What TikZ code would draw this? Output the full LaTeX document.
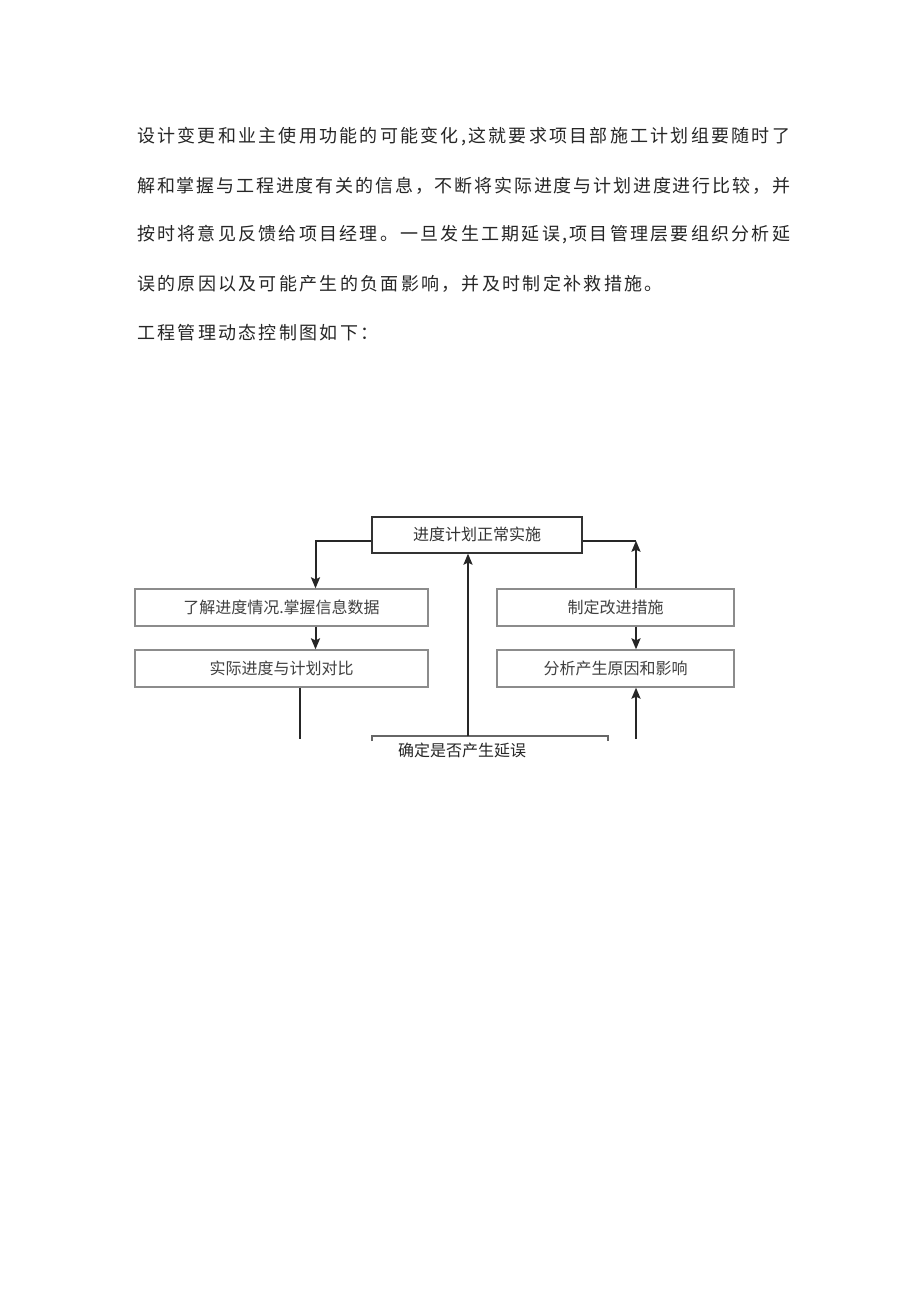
\documentclass[tikz,border=0pt]{standalone}
\usepackage{fontspec}
\usetikzlibrary{arrows.meta}
\newfontfamily\cjk{Noto Sans CJK SC}
\makeatletter
\newcommand\justline[2]{\hbox to #1{\jl@a#2\relax}}
\def\jl@a#1{#1\jl@b}
\def\jl@b#1{\ifx#1\relax\else\hfill#1\expandafter\jl@b\fi}
\newcommand\pitchline[1]{\pl@a#1\relax}
\def\pl@a#1{\ifx#1\relax\else\makebox[20.3pt][l]{#1}\expandafter\pl@a\fi}
\makeatother
\begin{document}
\begin{tikzpicture}[x=1pt,y=-1pt,
  para/.style={anchor=west,inner sep=0pt,font=\cjk\fontsize{18pt}{18pt}\selectfont,text=black!85},
  topbox/.style={draw=black!80,line width=1.8pt,minimum width=210pt,minimum height=36pt,inner sep=0pt,font=\cjk\fontsize{16pt}{16pt}\selectfont,text=black!80},
  sidebox/.style={draw=black!45,line width=1.3pt,minimum height=37pt,inner sep=0pt,font=\cjk\fontsize{16pt}{16pt}\selectfont,text=black!75},
  conn/.style={draw=black!85,line width=2pt},
  arr/.style={conn,-{Stealth[length=11pt,width=9pt,inset=2pt]}}]
\useasboundingbox (0,0) rectangle (920,1301);
\fill[white] (0,0) rectangle (920,1301);
% paragraph
\node[para] (p1) at (137,137) {\justline{653pt}{设计变更和业主使用功能的可能变化,这就要求项目部施工计划组要随时了}};
\node[para] (p2) at (137,186) {\justline{653pt}{解和掌握与工程进度有关的信息，不断将实际进度与计划进度进行比较，并}};
\node[para] (p3) at (137,235) {\justline{653pt}{按时将意见反馈给项目经理。一旦发生工期延误,项目管理层要组织分析延}};
\node[para] (p4) at (137,284) {\pitchline{误的原因以及可能产生的负面影响，并及时制定补救措施。}};
\node[para] (p5) at (137,333) {\pitchline{工程管理动态控制图如下：}};
% diagram
\node[topbox] (top) at (477,534.7) {进度计划正常实施};
\node[sidebox,minimum width=293pt] (l1) at (281.5,607.5) {了解进度情况.掌握信息数据};
\node[sidebox,minimum width=293pt] (l2) at (281.5,668.5) {实际进度与计划对比};
\node[sidebox,minimum width=237pt] (r1) at (615.5,607.5) {制定改进措施};
\node[sidebox,minimum width=237pt] (r2) at (615.5,668.5) {分析产生原因和影响};
\node[inner sep=0pt,font=\cjk\fontsize{16pt}{16pt}\selectfont,text=black!85] (bt) at (462,750) {确定是否产生延误};
\coordinate (bl) at (372,741);
\coordinate (br) at (608,741);
\coordinate (lend) at (300,739);
\coordinate (mend) at (468,736);
\coordinate (rend) at (636,739);
\draw[black!60,line width=1.2pt] (bl) -- ++(0,-5) -- ++(236,0) -- (br);
\draw[arr] ([yshift=-6pt]top.west) -| ([xshift=34pt]l1.north);
\draw[arr] ([xshift=34pt]l1.south) -- ([xshift=34pt]l2.north);
\draw[conn] ([xshift=18.5pt]l2.south) -- (lend);
\draw[arr] (mend) -- (top.south -| mend);
\draw[arr] (rend) -- (r2.south -| rend);
\draw[arr] (r1.south -| rend) -- (r2.north -| rend);
\draw[arr] (r1.north -| rend) -- ([yshift=-6pt]top.east -| rend);
\draw[conn] ([yshift=-6pt]top.east) -- ([yshift=-6pt]top.east -| rend);
\end{tikzpicture}
\end{document}
